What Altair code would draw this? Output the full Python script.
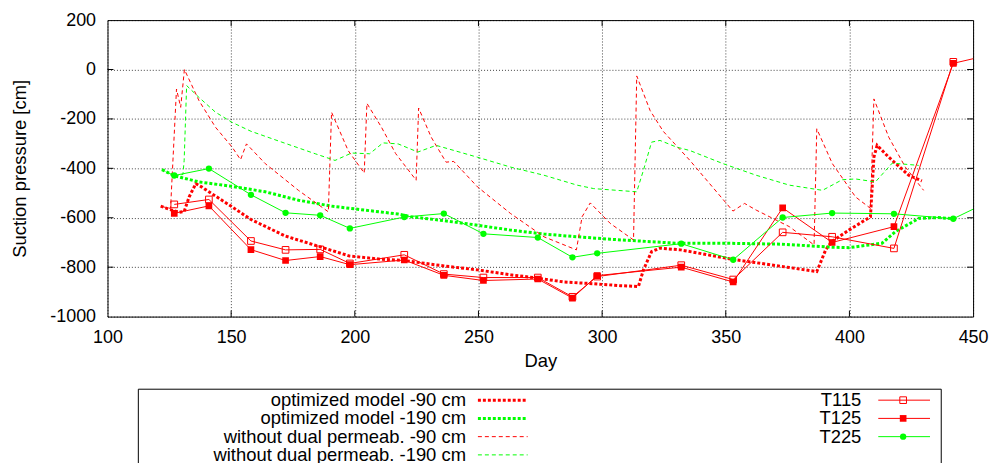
import altair as alt
import pandas as pd

# ---------------- data ----------------
t_days = [127, 141, 158, 172, 186, 198, 220, 236, 252, 274, 288, 298, 332, 353, 373, 393, 418, 442]
t115 = [-546, -526, -694, -730, -728, -785, -750, -828, -842, -842, -920, -838, -792, -850, -659, -677, -724, 31]
t125_days = t_days + [460]
t125 = [-582, -552, -729, -773, -757, -790, -771, -833, -854, -848, -925, -834, -800, -860, -560, -700, -636, 25, 67]
t225_days = t_days + [460]
t225 = [-429, -401, -507, -580, -590, -643, -597, -583, -665, -680, -760, -744, -705, -770, -599, -581, -584, -604, -517]

opt90_days = [121.5, 125, 129, 131, 133, 135.7, 138, 141, 150.4, 158, 171.9, 185.8, 197.9, 210.8, 219.9, 236,
              249.6, 263, 273.8, 284.5, 296.6, 307.3, 314.7, 316.7, 320, 323.4, 331.7, 352.6, 372.7, 386.8,
              390.4, 392.8, 399.8, 408.5, 409.9, 411.2, 415.9, 424, 429.3]
opt90 = [-553, -566, -578, -575, -516, -462, -475, -495, -556, -607, -674, -717, -755, -768, -773, -795,
         -811, -831, -844, -860, -867, -875, -878, -811, -737, -723, -730, -768, -797, -818,
         -730, -697, -650, -596, -355, -307, -355, -428, -451]

opt190_days = [122, 127, 137, 150.4, 163.8, 177.2, 190.6, 204, 217.5, 222.8, 236.2, 249.6, 263, 276.5, 289.9,
               303.3, 330, 348.9, 372.7, 392.8, 399.8, 413.2, 418.6, 428, 436, 441.8]
opt190 = [-405, -430, -455, -473, -495, -529, -553, -569, -585, -596, -612, -630, -650, -666, -677,
          -687, -703, -703, -707, -719, -721, -703, -656, -603, -599, -604]

nodual90_days = [122, 125.5, 127.9, 129.6, 131.1, 137, 143.7, 150.4, 153.8, 156.2, 163.8, 177.2, 189.3, 190.6,
                 197.3, 203.8, 204.9, 210.8, 216.5, 224.8, 225.8, 230.9, 236.9, 240, 249.6, 263, 276.5, 289.6,
                 291.9, 295.2, 303.3, 312.7, 314, 319.4, 324.7, 335.5, 352.9, 357.6, 362.3, 375.7, 385.7,
                 386.8, 393.1, 402.5, 408.5, 409.9, 415.9, 422.6, 430]
nodual90 = [-555, -562, -79, -153, 0, -126, -234, -314, -365, -301, -381, -489, -576, -173,
            -328, -419, -137, -234, -340, -448, -156, -274, -375, -372, -475, -583, -677, -730,
            -596, -540, -623, -690, -26, -166, -250, -368, -573, -542, -569, -636, -710,
            -240, -381, -516, -562, -119, -274, -395, -489]

nodual190_days = [122, 127, 130.5, 131, 132, 137, 143.7, 150.4, 158, 170.5, 184, 192, 198.7, 206, 211.4, 217.5,
                  225.5, 232.9, 249.6, 263, 276.5, 289.9, 296.6, 314, 316.7, 320, 323.4, 330.1, 335.5, 348.9,
                  362.3, 375.7, 389.1, 397.1, 402.5, 410.5, 417.3, 428]
nodual190 = [-405, -430, -425, -368, -65, -113, -173, -214, -250, -294, -341, -368, -338, -341, -297, -301,
             -334, -307, -355, -395, -428, -468, -482, -495, -408, -294, -287, -314, -328, -381,
             -428, -468, -489, -446, -443, -455, -379, -388]

model_names = ["optimized model -90 cm", "optimized model -190 cm",
               "without dual permeab. -90 cm", "without dual permeab. -190 cm"]
t_names = ["T115", "T125", "T225"]
x_ticks = [100, 150, 200, 250, 300, 350, 400, 450]
y_ticks = [-1000, -800, -600, -400, -200, 0, 200]

RED = "#ff0000"
GREEN = "#00ff00"
FONT = "Liberation Sans"

# ---------------- main plot ----------------
xs = alt.Scale(domain=[100, 450], nice=False, zero=False)
ys = alt.Scale(domain=[-1000, 200], nice=False, zero=False)
x_axis = alt.Axis(values=x_ticks, title="Day", ticks=False, tickSize=0, domain=False,
                  labelPadding=12, titleY=50, titleBaseline="alphabetic", labelFlush=False,
                  labelExpr="'' + datum.value")
y_axis = alt.Axis(values=y_ticks, title="Suction pressure [cm]", ticks=False, tickSize=0, domain=False,
                  labelPadding=12, titleX=-88.5, titleBaseline="middle", labelFlush=False,
                  labelExpr="'' + datum.value")


def series_df(days, vals):
    return pd.DataFrame({"day": days, "value": vals})


def line_layer(days, vals, color, width, dash=None, first=False):
    kw = dict(color=color, strokeWidth=width, clip=True)
    if dash is not None:
        kw["strokeDash"] = dash
    enc_x = alt.X("day:Q", scale=xs, axis=x_axis) if first else alt.X("day:Q", scale=xs)
    enc_y = alt.Y("value:Q", scale=ys, axis=y_axis) if first else alt.Y("value:Q", scale=ys)
    return alt.Chart(series_df(days, vals)).mark_line(**kw).encode(x=enc_x, y=enc_y)


def point_layer(days, vals, color, shape, filled, size):
    return alt.Chart(series_df(days, vals)).mark_point(
        shape=shape, filled=filled, color=color, size=size, strokeWidth=1, opacity=1, clip=True
    ).encode(x=alt.X("day:Q", scale=xs), y=alt.Y("value:Q", scale=ys))


xt_df = pd.DataFrame({"day": x_ticks[1:-1]})
yt_df = pd.DataFrame({"value": y_ticks[1:-1]})
tick_layers = [
    alt.Chart(xt_df).mark_rule(color="black", strokeWidth=1, y2Offset=-6).encode(
        x=alt.X("day:Q", scale=xs), y=alt.datum(-1000), y2=alt.datum(-1000)),
    alt.Chart(xt_df).mark_rule(color="black", strokeWidth=1, y2Offset=6).encode(
        x=alt.X("day:Q", scale=xs), y=alt.datum(200), y2=alt.datum(200)),
    alt.Chart(yt_df).mark_rule(color="black", strokeWidth=1, x2Offset=6).encode(
        y=alt.Y("value:Q", scale=ys), x=alt.datum(100), x2=alt.datum(100)),
    alt.Chart(yt_df).mark_rule(color="black", strokeWidth=1, x2Offset=-6).encode(
        y=alt.Y("value:Q", scale=ys), x=alt.datum(450), x2=alt.datum(450)),
]

THICK_DOT = [3, 2]
THIN_DASH = [4, 3]

main = alt.layer(
    line_layer(opt90_days, opt90, RED, 3, THICK_DOT, first=True),
    line_layer(opt190_days, opt190, GREEN, 3, THICK_DOT),
    line_layer(nodual90_days, nodual90, RED, 1, THIN_DASH),
    line_layer(nodual190_days, nodual190, GREEN, 1, THIN_DASH),
    line_layer(t_days, t115, RED, 1),
    point_layer(t_days, t115, RED, "square", False, 45),
    line_layer(t125_days, t125, RED, 1),
    point_layer(t125_days, t125, RED, "square", True, 45),
    line_layer(t225_days, t225, GREEN, 1),
    point_layer(t225_days, t225, GREEN, "circle", True, 40),
    *tick_layers,
)

# ---------------- legend (placed below the plot through its own scales) ----------------
lxs = alt.Scale(domain=[0, 1], range=[360.3, 757.7], nice=False, zero=False)
lys = alt.Scale(domain=[0, 3], range=[382, 437], nice=False, zero=False)
LX = alt.X("col:Q", scale=lxs, axis=None)
LY = alt.Y("row:Q", scale=lys, axis=None)

leg_model = pd.DataFrame({"label": model_names, "row": list(range(4)), "col": [0] * 4})
leg_t = pd.DataFrame({"label": t_names, "row": list(range(3)), "col": [1] * 3})
box_df = pd.DataFrame({"col": [0], "col2": [1], "row": [0], "row2": [3]})

legend_layers = [
    alt.Chart(box_df).mark_rect(fillOpacity=0, stroke="black", strokeWidth=1,
                                xOffset=-329.3, x2Offset=80.3, yOffset=-11, y2Offset=16).encode(
        x=LX, x2="col2:Q", y=LY, y2="row2:Q"),
    alt.Chart(leg_model).mark_text(align="right", baseline="middle", fontSize=18.5, font=FONT,
                                   color="black").encode(x=LX, y=LY, text="label:N"),
    alt.Chart(leg_t).mark_text(align="right", baseline="middle", fontSize=18.5, font=FONT,
                               color="black").encode(x=LX, y=LY, text="label:N"),
]
model_styles = [(RED, 3, THICK_DOT), (GREEN, 3, THICK_DOT), (RED, 1, THIN_DASH), (GREEN, 1, THIN_DASH)]
for i, (c, w, d) in enumerate(model_styles):
    legend_layers.append(
        alt.Chart(leg_model.iloc[[i]]).mark_rule(color=c, strokeWidth=w, strokeDash=d,
                                                 xOffset=12, x2Offset=62).encode(
            x=LX, x2="col:Q", y=LY))
t_styles = [(RED, "square", False, 45), (RED, "square", True, 45), (GREEN, "circle", True, 40)]
for i, (c, shp, f, s) in enumerate(t_styles):
    sub = leg_t.iloc[[i]]
    legend_layers.append(
        alt.Chart(sub).mark_rule(color=c, strokeWidth=1, xOffset=17, x2Offset=69).encode(
            x=LX, x2="col:Q", y=LY))
    legend_layers.append(
        alt.Chart(sub).mark_point(shape=shp, filled=f, color=c, size=s, strokeWidth=1, opacity=1,
                                  xOffset=42).encode(x=LX, y=LY))

legend = alt.layer(*legend_layers)

chart = alt.layer(main, legend).resolve_scale(x="independent", y="independent").properties(
    width=870, height=298,
    autosize=alt.AutoSizeParams(type="none"),
    padding={"left": 100, "top": 11, "right": 17, "bottom": 146},
    background="white",
).configure(font=FONT).configure_view(
    stroke="black", strokeWidth=1
).configure_axis(
    grid=True, gridColor="#000000", gridDash=[1, 2], gridOpacity=0.75, gridWidth=1,
    labelFont=FONT, labelFontSize=18, labelColor="black",
    titleFont=FONT, titleFontSize=18.5, titleColor="black", titleFontWeight="normal",
)

chart.save("out.html", embed_options={"renderer": "svg", "actions": False})
